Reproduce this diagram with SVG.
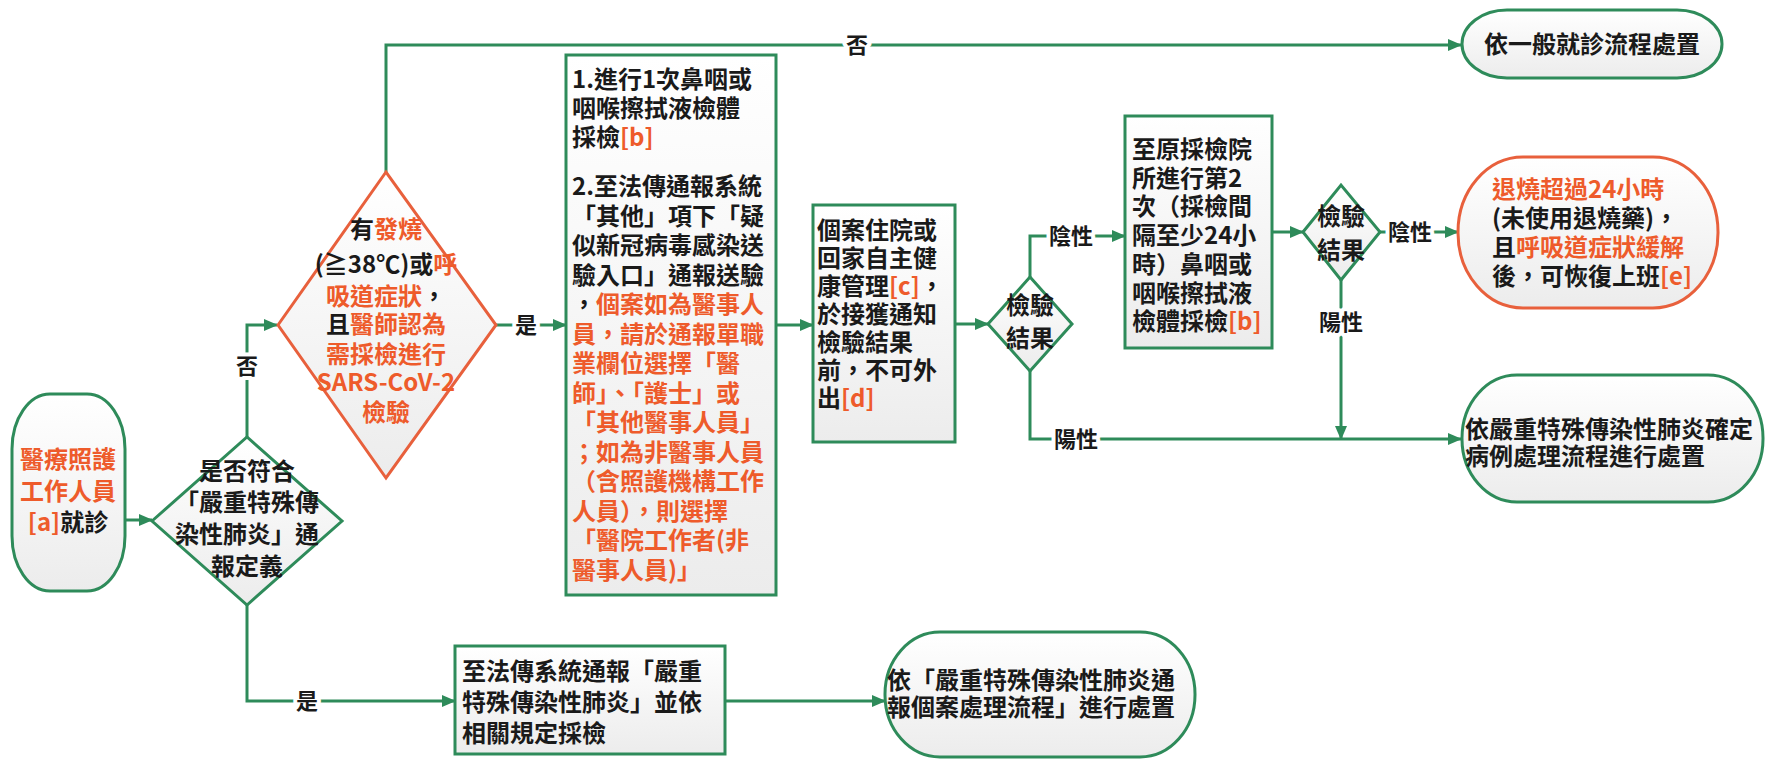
<svg xmlns="http://www.w3.org/2000/svg" width="1767" height="759" viewBox="0 0 1767 759">
<defs>
<linearGradient id="fill" x1="0" y1="0" x2="0" y2="1">
<stop offset="0" stop-color="#ffffff"/>
<stop offset="1" stop-color="#ececec"/>
</linearGradient>
<marker id="arr" markerUnits="userSpaceOnUse" markerWidth="14" markerHeight="12" refX="13" refY="6" orient="auto">
<path d="M0,0 L14,6 L0,12 z" fill="#2E8B5A"/>
</marker>
</defs>
<style>
.n{fill:url(#fill);stroke:#2E8B5A;stroke-width:3}
.no{fill:url(#fill);stroke:#E8603C;stroke-width:3}
.c{fill:none;stroke:#2E8B5A;stroke-width:3;marker-end:url(#arr)}
.cn{fill:none;stroke:#2E8B5A;stroke-width:3}
text{font-family:"Noto Sans CJK TC","Noto Sans CJK SC",sans-serif;font-weight:bold;font-size:24px;fill:#1a1a1a}
.o{fill:#EE5B2B}
.k{fill:#1a1a1a}
.m{text-anchor:middle}
.lb{font-size:22px;text-anchor:middle;stroke:#ffffff;stroke-width:8;paint-order:stroke;stroke-linejoin:round}
</style>
<rect width="1767" height="759" fill="#ffffff"/>

<g id="connectors">
<path class="c" d="M126,520 L152,520"/>
<path class="c" d="M247,437 L247,325 L277,325"/>
<path class="c" d="M386,172 L386,45 L1461,45"/>
<path class="c" d="M496,325 L566,325"/>
<path class="c" d="M776,325 L813,325"/>
<path class="c" d="M955,324 L988,324"/>
<path class="c" d="M1030,277 L1030,236 L1125,236"/>
<path class="c" d="M1030,371 L1030,439 L1461,439"/>
<path class="c" d="M1272,232 L1303,232"/>
<path class="c" d="M1380,232 L1458,232"/>
<path class="c" d="M1341,280 L1341,439"/>
<path class="c" d="M247,605 L247,701 L455,701"/>
<path class="c" d="M725,701 L885,701"/>
<text class="lb" x="247" y="374">否</text>
<text class="lb" x="857" y="53">否</text>
<text class="lb" x="526" y="333">是</text>
<text class="lb" x="1071" y="244">陰性</text>
<text class="lb" x="1410" y="240">陰性</text>
<text class="lb" x="1341" y="330">陽性</text>
<text class="lb" x="1076" y="447">陽性</text>
<text class="lb" x="307" y="709">是</text>
</g>

<g id="start">
<rect class="n" x="12" y="394" width="113" height="197" rx="38" ry="55"/>
<text class="m o" x="68" y="468">醫療照護</text>
<text class="m o" x="68" y="500">工作人員</text>
<text class="m" x="68" y="531"><tspan class="o">[a]</tspan>就診</text>
</g>

<g id="decision1">
<polygon class="n" points="152,521 247,437 342,521 247,605"/>
<text class="m" x="247" y="480">是否符合</text>
<text class="m" x="247" y="511">「嚴重特殊傳</text>
<text class="m" x="247" y="543">染性肺炎」通</text>
<text class="m" x="247" y="575">報定義</text>
</g>

<g id="decision2">
<polygon class="no" points="278,325 386,172 496,325 386,478"/>
<text class="m" x="386" y="238" font-size="23">有<tspan class="o">發燒</tspan></text>
<text class="m" x="386" y="273" font-size="23">(≧38℃)或<tspan class="o">呼</tspan></text>
<text class="m" x="386" y="305" font-size="23"><tspan class="o">吸道症狀</tspan>，</text>
<text class="m" x="386" y="333" font-size="23">且<tspan class="o">醫師認為</tspan></text>
<text class="m o" x="386" y="363" font-size="23">需採檢進行</text>
<text class="m o" x="386" y="391" font-size="23">SARS-CoV-2</text>
<text class="m o" x="386" y="421" font-size="23">檢驗</text>
</g>

<g id="sampling">
<rect class="n" x="566" y="55" width="210" height="540"/>
<text x="572" y="88">1.進行1次鼻咽或</text>
<text x="572" y="117">咽喉擦拭液檢體</text>
<text x="572" y="146">採檢<tspan class="o">[b]</tspan></text>
<text x="572" y="195">2.至法傳通報系統</text>
<text x="572" y="224.5">「其他」項下「疑</text>
<text x="572" y="254">似新冠病毒感染送</text>
<text x="572" y="283.5">驗入口」通報送驗</text>
<text x="572" y="313">，<tspan class="o">個案如為醫事人</tspan></text>
<text class="o" x="572" y="342.5">員，請於通報單職</text>
<text class="o" x="572" y="372">業欄位選擇「醫</text>
<text class="o" x="572" y="401.5">師」、「護士」或</text>
<text class="o" x="572" y="431">「其他醫事人員」</text>
<text class="o" x="572" y="460.5">；如為非醫事人員</text>
<text class="o" x="572" y="490">（含照護機構工作</text>
<text class="o" x="572" y="519.5">人員），則選擇</text>
<text class="o" x="572" y="549">「醫院工作者(非</text>
<text class="o" x="572" y="578.5">醫事人員)」</text>
</g>

<g id="isolation">
<rect class="n" x="813" y="205" width="142" height="237"/>
<text x="817" y="239">個案住院或</text>
<text x="817" y="267">回家自主健</text>
<text x="817" y="295">康管理<tspan class="o">[c]</tspan>，</text>
<text x="817" y="323">於接獲通知</text>
<text x="817" y="351">檢驗結果</text>
<text x="817" y="379">前，不可外</text>
<text x="817" y="407">出<tspan class="o">[d]</tspan></text>
</g>

<g id="result1">
<polygon class="n" points="988,324 1030,277 1072,324 1030,371"/>
<text class="m" x="1030" y="314" font-size="22">檢驗</text>
<text class="m" x="1030" y="347" font-size="22">結果</text>
</g>

<g id="second-sampling">
<rect class="n" x="1125" y="116" width="147" height="232"/>
<text x="1132" y="158">至原採檢院</text>
<text x="1132" y="186.7">所進行第2</text>
<text x="1132" y="215.4">次（採檢間</text>
<text x="1132" y="244.1">隔至少24小</text>
<text x="1132" y="272.8">時）鼻咽或</text>
<text x="1132" y="301.5">咽喉擦拭液</text>
<text x="1132" y="330.2">檢體採檢<tspan class="o">[b]</tspan></text>
</g>

<g id="result2">
<polygon class="n" points="1303,232 1341,185 1380,232 1341,280"/>
<text class="m" x="1341" y="225" font-size="22">檢驗</text>
<text class="m" x="1341" y="259" font-size="22">結果</text>
</g>

<g id="general">
<rect class="n" x="1462" y="10" width="260" height="68" rx="45" ry="34"/>
<text class="m" x="1592" y="53">依一般就診流程處置</text>
</g>

<g id="return-work">
<rect class="no" x="1458" y="157" width="260" height="151" rx="65" ry="75"/>
<text class="o" x="1492" y="198">退燒超過24小時</text>
<text x="1492" y="227">(未使用退燒藥)，</text>
<text x="1492" y="256">且<tspan class="o">呼吸道症狀緩解</tspan></text>
<text x="1492" y="285">後，可恢復上班<tspan class="o">[e]</tspan></text>
</g>

<g id="confirmed">
<rect class="n" x="1462" y="375" width="301" height="127" rx="55" ry="63"/>
<text x="1465" y="438">依嚴重特殊傳染性肺炎確定</text>
<text x="1465" y="465">病例處理流程進行處置</text>
</g>

<g id="report">
<rect class="n" x="455" y="646" width="270" height="108"/>
<text x="462" y="680">至法傳系統通報「嚴重</text>
<text x="462" y="711">特殊傳染性肺炎」並依</text>
<text x="462" y="742">相關規定採檢</text>
</g>

<g id="report-process">
<rect class="n" x="885" y="632" width="310" height="125" rx="55" ry="62"/>
<text x="887" y="689" font-size="25">依「嚴重特殊傳染性肺炎通</text>
<text x="887" y="716" font-size="25">報個案處理流程」進行處置</text>
</g>
</svg>
